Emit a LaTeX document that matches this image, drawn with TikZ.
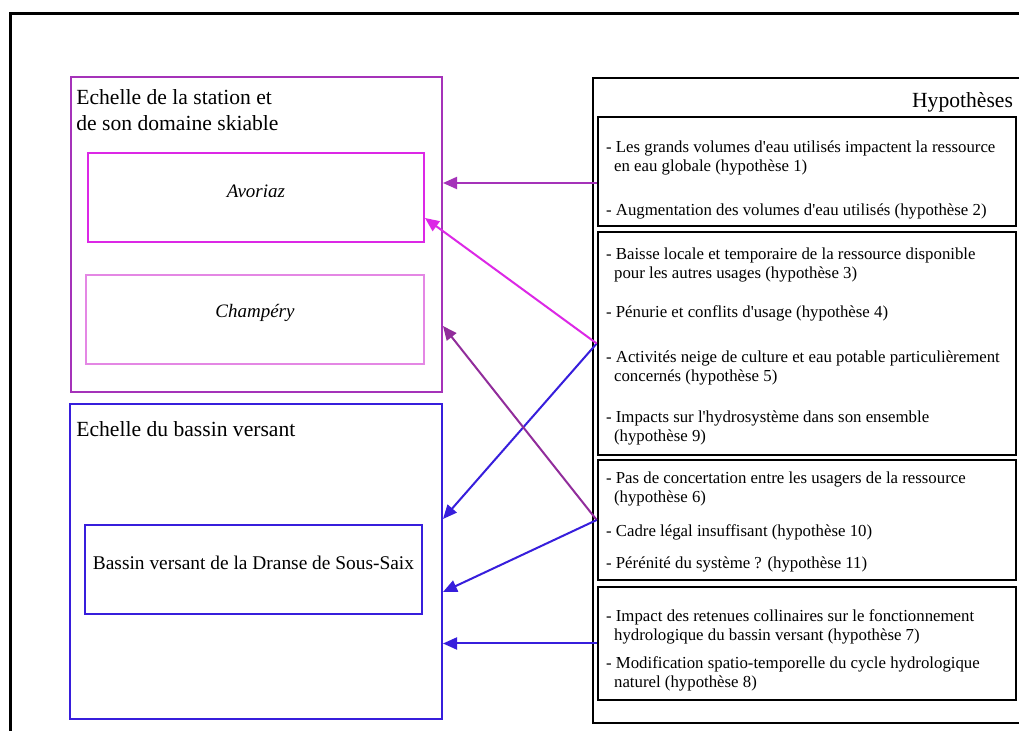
\documentclass[tikz,border=0pt]{standalone}
\usepackage{fontspec}
\setmainfont{Liberation Serif}
\usetikzlibrary{positioning}
\usetikzlibrary{fit}
\usetikzlibrary{arrows.meta}
\definecolor{stationcol}{RGB}{165,50,185}
\definecolor{avoriazcol}{RGB}{220,40,230}
\definecolor{champerycol}{RGB}{228,135,228}
\definecolor{bassincol}{RGB}{55,30,220}
\definecolor{plumcol}{RGB}{145,45,155}
\newcommand{\sq}{\textquotesingle}
\tikzstyle{outerframe} = [draw=black, line width=1.5pt]
\tikzstyle{scalebox} = [rectangle, draw, line width=1pt, inner sep=0pt]
\tikzstyle{hypbox} = [rectangle, draw=black, line width=1.3pt, inner sep=0pt]
\tikzstyle{title} = [inner sep=0pt, align=left, font=\fontsize{10.8}{13}\selectfont]
\tikzstyle{site} = [font=\fontsize{9.5}{11}\selectfont\itshape]
\tikzstyle{item} = [inner sep=0pt, align=left, font=\fontsize{8.4}{9.3}\selectfont]
\tikzstyle{line} = [draw, line width=1pt, -{Triangle[length=7pt,width=6pt]}]

\begin{document}
\begin{tikzpicture}[x=0.5pt, y=-0.5pt]
\useasboundingbox (0,0) rectangle (1019,731);
\clip (0,0) rectangle (1019,731);
\fill[white] (0,0) rectangle (1019,731);
\draw[outerframe] (10,14) rectangle (1040,760);

% Place nodes
\node [scalebox, draw=stationcol, fit={(71,77) (442,392)}] (station) {};
\node [title, below right=6.5pt and 3pt of station.north west] (stationtitle)
{Echelle de la station et\\de son domaine skiable};
\node [scalebox, draw=avoriazcol, fit={(88,153) (424,242)}, site] (avoriaz) {Avoriaz};
\node [scalebox, draw=champerycol, fit={(86,275) (424,364)}, site] (champery) {Champéry};

\node [scalebox, draw=bassincol, fit={(70,404) (442,719)}] (bassin) {};
\node [title, below right=9pt and 3.5pt of bassin.north west] (bassintitle)
{Echelle du bassin versant};
\node [scalebox, draw=bassincol, fit={(85,525) (422,614)},
  font=\fontsize{9.7}{11}\selectfont] (dranse) {Bassin versant de la Dranse de Sous-Saix};

\node [hypbox, fit={(593,78) (1030,723)}] (hyp) {};
\node [title, below left=7.5pt and 9pt of hyp.north east] (hyptitle) {Hypothèses};
\node [hypbox, fit={(598,117) (1016,226)}] (h1) {};
\node [hypbox, fit={(598,232) (1016,455)}] (h2) {};
\node [hypbox, fit={(598,460) (1016,580)}] (h3) {};
\node [hypbox, fit={(598,587) (1016,700)}] (h4) {};

\node [item, below right=12.5pt and 4.5pt of h1.north west] (i1)
{- Les grands volumes d\sq eau utilisés impactent la ressource\\\hspace*{4pt}en eau globale (hypothèse 1)};
\node [item, below right=44pt and 4.5pt of h1.north west] (i2)
{- Augmentation des volumes d\sq eau utilisés (hypothèse 2)};

\node [item, below right=8.5pt and 4.5pt of h2.north west] (i3)
{- Baisse locale et temporaire de la ressource disponible\\\hspace*{4pt}pour les autres usages (hypothèse 3)};
\node [item, below right=37.5pt and 4.5pt of h2.north west] (i4)
{- Pénurie et conflits d\sq usage (hypothèse 4)};
\node [item, below right=60pt and 4.5pt of h2.north west] (i5)
{- Activités neige de culture et eau potable particulièrement\\\hspace*{4pt}concernés (hypothèse 5)};
\node [item, below right=90pt and 4.5pt of h2.north west] (i6)
{- Impacts sur l\sq hydrosystème dans son ensemble\\\hspace*{4pt}(hypothèse 9)};

\node [item, below right=6.5pt and 4.5pt of h3.north west] (i7)
{- Pas de concertation entre les usagers de la ressource\\\hspace*{4pt}(hypothèse 6)};
\node [item, below right=33pt and 4.5pt of h3.north west] (i8)
{- Cadre légal insuffisant (hypothèse 10)};
\node [item, below right=49pt and 4.5pt of h3.north west] (i9)
{- Pérénité du système ? (hypothèse 11)};

\node [item, below right=12pt and 4.5pt of h4.north west] (i10)
{- Impact des retenues collinaires sur le fonctionnement\\\hspace*{4pt}hydrologique du bassin versant (hypothèse 7)};
\node [item, below right=35.5pt and 4.5pt of h4.north west] (i11)
{- Modification spatio-temporelle du cycle hydrologique\\\hspace*{4pt}naturel (hypothèse 8)};

% Arrow ends
\coordinate (h1out) at ([yshift=-5.75pt]h1.west);
\coordinate (stin) at ([yshift=-45.75pt]station.east);
\coordinate (avin) at ([yshift=-10.25pt]avoriaz.east);
\coordinate (bvin1) at ([yshift=21.25pt]bassin.east);
\coordinate (bvin2) at ([yshift=-15.25pt]bassin.east);

% Draw edges
\path [line, stationcol] (h1out) -- (h1out -| station.east);
\path [line, bassincol] (h2.west) -- (bvin1);
\path [line, avoriazcol] (h2.west) -- (avin);
\path [line, plumcol] (h3.west) -- (stin);
\path [line, bassincol] (h3.west) -- (bvin2);
\path [line, bassincol] (h4.west) -- (h4.west -| bassin.east);

\end{tikzpicture}
\end{document}
